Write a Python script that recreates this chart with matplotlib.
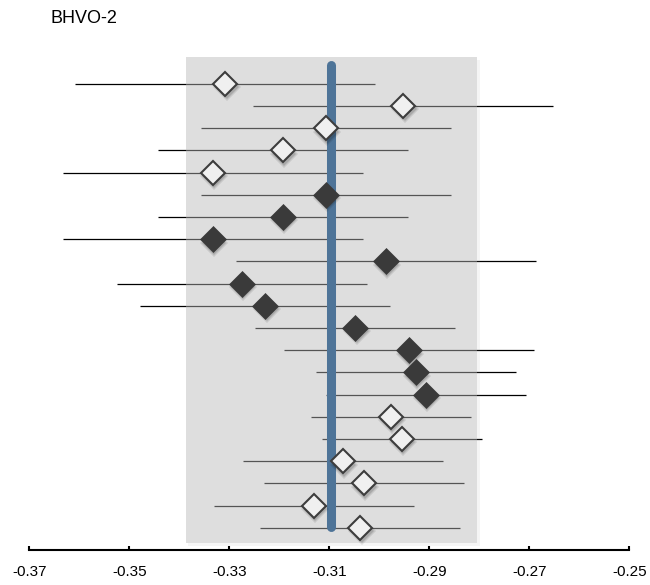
# BHVO-2 comparison plot: values with error bars, mean line and grey range band

import matplotlib
matplotlib.use('Agg')
import matplotlib.pyplot as plt
import matplotlib.transforms as mtransforms
import numpy as np

plt.rcParams['font.family'] = ['Liberation Sans', 'DejaVu Sans']

# Data (top row first)
values = [-0.3308, -0.2952, -0.3107, -0.3193, -0.3333, -0.3107, -0.3193,
          -0.3333, -0.2987, -0.3275, -0.3228, -0.3048, -0.2941, -0.2927,
          -0.2907, -0.2977, -0.2955, -0.3073, -0.3031, -0.3131, -0.3038]
errors = [0.030, 0.030, 0.025, 0.025, 0.030, 0.025, 0.025, 0.030, 0.030,
          0.025, 0.025, 0.020, 0.025, 0.020, 0.020, 0.016, 0.016, 0.020,
          0.020, 0.020, 0.020]
filled = [0, 0, 0, 0, 0, 1, 1, 1, 1, 1, 1, 1, 1, 1, 1, 0, 0, 0, 0, 0, 0]
mean_value = -0.3097
band_low, band_high = -0.3386, -0.2804
xticks = [-0.37, -0.35, -0.33, -0.31, -0.29, -0.27, -0.25]
xtick_labels = ['-0.37', '-0.35', '-0.33', '-0.31', '-0.29', '-0.27', '-0.25']
title = 'BHVO-2'

values = np.array(values)
errors = np.array(errors)
filled = np.array(filled, dtype=bool)
rows = np.arange(1, len(values) + 1)

fig = plt.figure(figsize=(6.5, 5.85), dpi=100)
ax = fig.add_axes([29.3 / 650, 35 / 585, 600 / 650, 500 / 585])

# error bars (under the band)
ax.errorbar(values, rows, xerr=errors, fmt='none', ecolor='black',
            elinewidth=0.9, capsize=0, zorder=1)

# grey band, semi transparent so bars look lighter inside
ax.axvspan(band_low, band_high, ymin=0.0146, ymax=0.986,
           facecolor=(0.72, 0.72, 0.72), alpha=0.46, lw=0, zorder=2)
# soft shadow on the right and bottom edges
ax.axvspan(band_high, band_high + 0.0005, ymin=0.0146, ymax=0.98,
           facecolor='grey', alpha=0.08, lw=0, zorder=2)
ax.axvspan(band_low + 0.0004, band_high + 0.0005, ymin=0.009, ymax=0.0146,
           facecolor='grey', alpha=0.08, lw=0, zorder=2)

# mean line
ax.axvline(mean_value, ymin=0.046, ymax=0.971, color='#4e7498', lw=6.5,
           solid_capstyle='round', zorder=3)

# marker shadows
ms = 12.5
shadow = mtransforms.offset_copy(ax.transData, fig=fig, x=1.0, y=-2.5, units='points')
ax.plot(values, rows, 'D', ms=ms + 2, color='black', alpha=0.10, mew=0,
        transform=shadow, zorder=4)
ax.plot(values, rows, 'D', ms=ms, color='black', alpha=0.15, mew=0,
        transform=shadow, zorder=4)

# markers
ax.plot(values[~filled], rows[~filled], 'D', ms=ms, mfc='#f0f0f0',
        mec='#3d3d3d', mew=1.5, ls='none', zorder=5)
ax.plot(values[filled], rows[filled], 'D', ms=ms + 1, mfc='#3a3a3a',
        mec='#3a3a3a', mew=0.5, ls='none', zorder=5)

ax.set_xlim(-0.37, -0.25)
ax.set_ylim(22.0, -0.518)
ax.set_xticks(xticks)
ax.set_xticklabels(xtick_labels, fontsize=11)
ax.set_yticks([])
for side in ['top', 'left', 'right']:
    ax.spines[side].set_visible(False)
ax.spines['bottom'].set_linewidth(1.5)
ax.spines['bottom'].set_zorder(6)
ax.tick_params(axis='x', direction='in', length=3, width=1.5, pad=11)
ax.patch.set_alpha(0)

fig.text(50 / 650, 1 - 18.3 / 585, title, fontsize=13, va='center', ha='left')

fig.savefig('out.png', dpi=100)
